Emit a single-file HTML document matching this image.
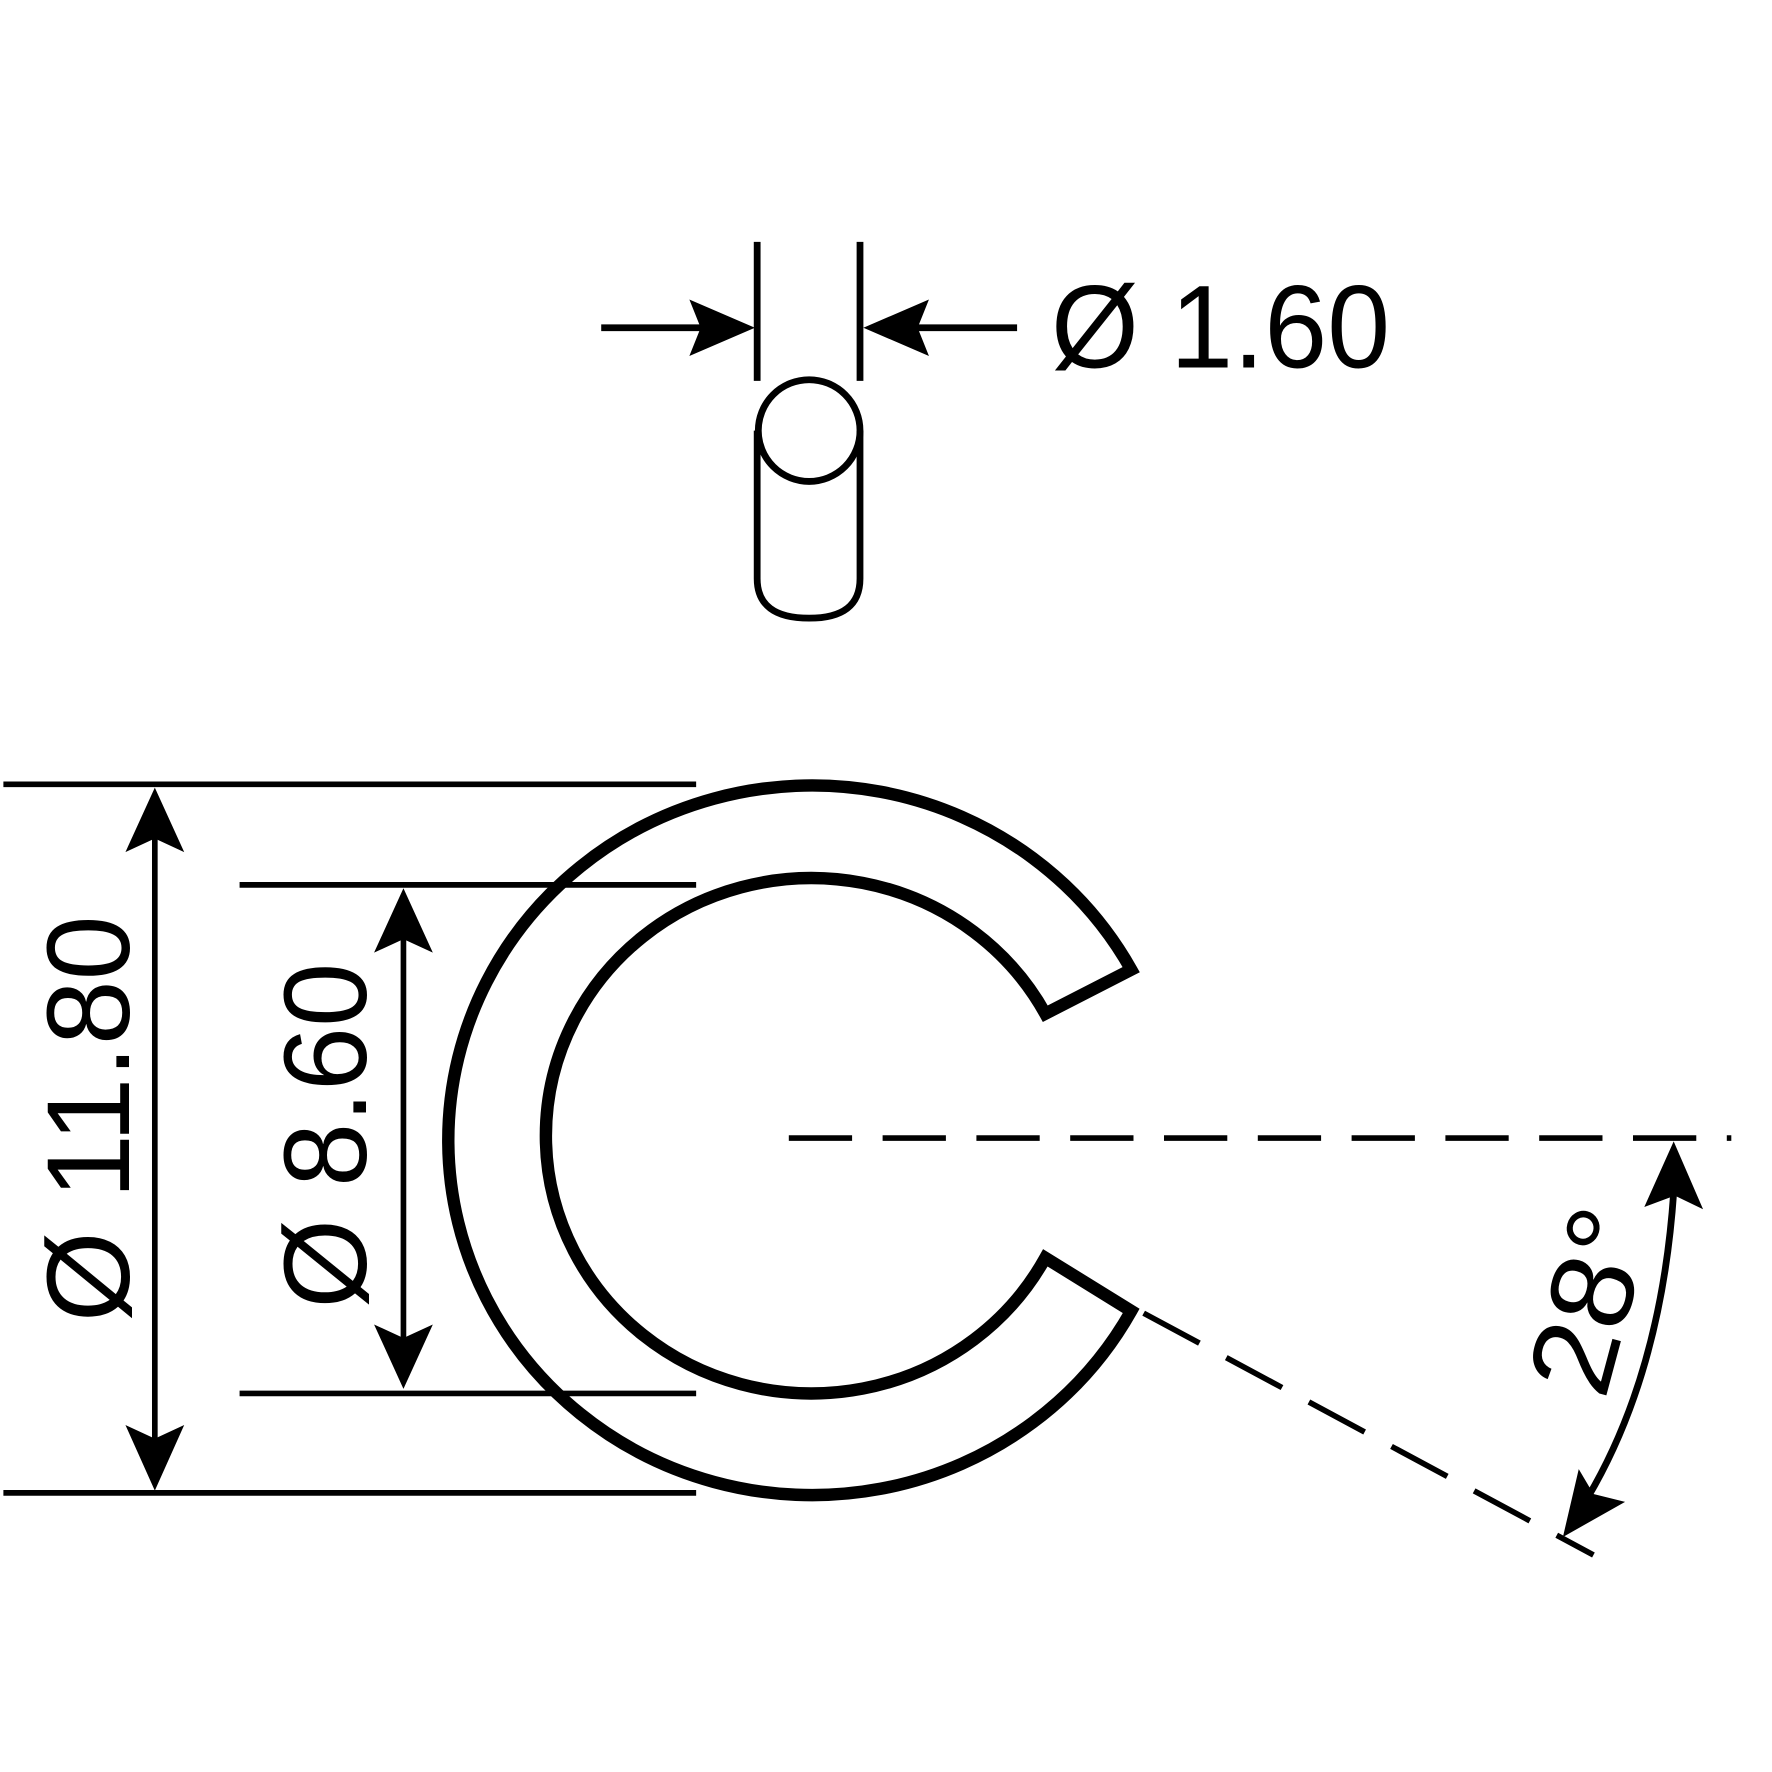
<!DOCTYPE html>
<html><head><style>html,body{margin:0;padding:0;background:#fff}svg{display:block}</style></head>
<body>
<svg width="1772" height="1772" viewBox="0 0 1568 1568" xmlns="http://www.w3.org/2000/svg">
<rect width="1568" height="1568" fill="#fff"/>
<g stroke="#000" fill="none">
  <line x1="532" y1="290" x2="625" y2="290" stroke-width="6"/>
  <line x1="808" y1="290" x2="900" y2="290" stroke-width="6"/>
  <line x1="670" y1="214" x2="670" y2="337" stroke-width="6"/>
  <line x1="761" y1="214" x2="761" y2="337" stroke-width="6"/>
  <path d="M670,381 V512 Q670,547 716,547 Q761,547 761,512 V381" stroke-width="6"/>
  <circle cx="716" cy="381" r="45" stroke-width="6"/>
  <line x1="3" y1="694" x2="616" y2="694" stroke-width="5"/>
  <line x1="212" y1="783" x2="616" y2="783" stroke-width="5"/>
  <line x1="212" y1="1233" x2="616" y2="1233" stroke-width="5"/>
  <line x1="3" y1="1321" x2="616" y2="1321" stroke-width="5"/>
  <line x1="137" y1="740" x2="137" y2="1275" stroke-width="5"/>
  <line x1="357" y1="830" x2="357" y2="1185" stroke-width="5"/>
  <path d="M1001,858 A322,314 0 1 0 1001,1160 L925,1113 A235,228 0 1 1 925,897 Z" stroke-width="11"/>
  <line x1="698" y1="1007" x2="1532" y2="1007" stroke-width="5" stroke-dasharray="56,27"/>
  <line x1="1012" y1="1162" x2="1410" y2="1376" stroke-width="5" stroke-dasharray="56,27"/>
  <path d="M1481,1055 Q1470,1215 1405,1325" stroke-width="6"/>
</g>
<g fill="#000">
  <polygon points="668,290 610,265 620,290 610,315"/>
  <polygon points="764,290 822,265 812,290 822,315"/>
  <polygon points="137,697 111,754 137,742 163,754"/>
  <polygon points="137,1319 111,1261 137,1273 163,1261"/>
  <polygon points="357,786 331,843 357,831 383,843"/>
  <polygon points="357,1229 331,1172 357,1184 383,1172"/>
  <polygon points="1481,1010 1455,1068 1482,1058 1507,1070"/>
  <polygon points="1383,1360 1397,1300 1410,1322 1438,1329"/>
</g>
<g font-family="Liberation Sans, sans-serif" font-size="104" fill="#000">
  <text x="930" y="325" textLength="300" lengthAdjust="spacingAndGlyphs">Ø 1.60</text>
  <text transform="translate(114,1170) rotate(-90)" textLength="360" lengthAdjust="spacingAndGlyphs">Ø 11.80</text>
  <text transform="translate(324,1158) rotate(-90)" textLength="306" lengthAdjust="spacingAndGlyphs">Ø 8.60</text>
  <text transform="translate(1420,1240) rotate(-75)" textLength="165" lengthAdjust="spacingAndGlyphs">28°</text>
</g>
</svg>
</body></html>
